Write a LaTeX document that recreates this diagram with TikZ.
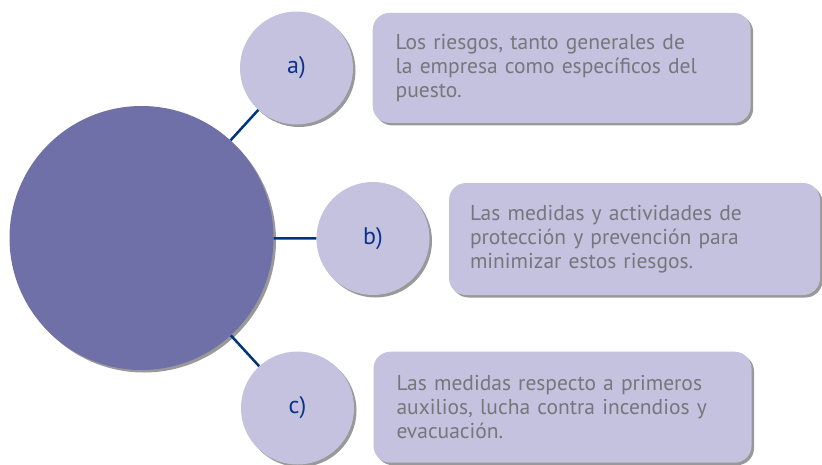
\documentclass[tikz,border=0pt]{standalone}
\usepackage{fontspec}
\setmainfont{PT Sans}
\usetikzlibrary{shadows}
\definecolor{bigfill}{RGB}{112,112,168}
\definecolor{lightfill}{RGB}{196,194,222}
\definecolor{connblue}{RGB}{0,51,128}
\definecolor{labelblue}{RGB}{10,50,140}
\definecolor{textgray}{RGB}{118,118,124}
\tikzset{
  shad/.style={drop shadow={shadow xshift=2.5pt, shadow yshift=-2.5pt, opacity=1, fill=black!40}},
  bigcircle/.style={circle, fill=bigfill, minimum size=264pt, inner sep=0pt, shad},
  smallcircle/.style={circle, fill=lightfill, minimum size=113pt, inner sep=0pt, shad,
    text=labelblue, font=\fontsize{24}{26}\selectfont},
  infobox/.style={rectangle, rounded corners=17pt, fill=lightfill, shad, align=left,
    text=textgray, font=\fontsize{21.5}{24}\selectfont, inner ysep=0pt},
  conn/.style={draw=connblue, line width=2.5pt}
}
\begin{document}
\begin{tikzpicture}[x=1pt, y=-1pt]
\useasboundingbox (0,0) rectangle (822,464);
\node[bigcircle] (big) at (141.5,238) {};
\node[smallcircle] (a) at (296.5,68) {a)};
\node[smallcircle] (b) at (373,238.5) {b)};
\node[smallcircle] (c) at (297.5,408) {c)};
\draw[conn] (big) -- (a);
\draw[conn] (big) -- (b);
\draw[conn] (big) -- (c);
\node[infobox, text width=332pt, inner xsep=23pt, minimum height=110pt] (ta) at (561.7,67.9)
  {Los riesgos, tanto generales de\\la empresa como específicos del\\puesto.};
\node[infobox, text width=329pt, inner xsep=21pt, minimum height=112pt] (tb) at (634.5,239)
  {Las medidas y actividades de\\protección y prevención para\\minimizar estos riesgos.};
\node[infobox, text width=332pt, inner xsep=23pt, minimum height=111pt] (tc) at (562.5,407.2)
  {Las medidas respecto a primeros\\auxilios, lucha contra incendios y\\evacuación.};
\end{tikzpicture}
\end{document}
